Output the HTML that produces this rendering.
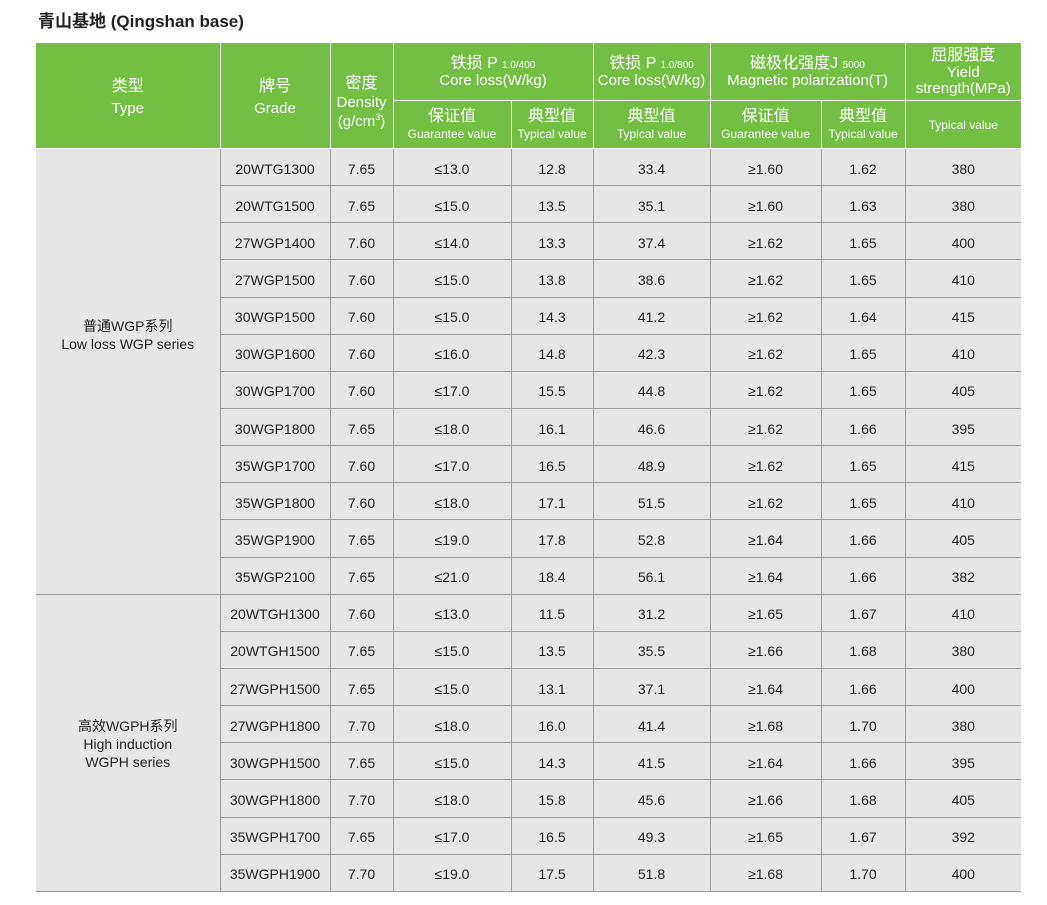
<!DOCTYPE html>
<html><head><meta charset="utf-8"><style>
body{margin:0;background:#fff;width:1047px;height:905px;overflow:hidden;font-family:"Liberation Sans","Noto Sans CJK SC",sans-serif;color:#231f20}
.t{position:absolute;left:38px;top:7px;font-size:17px;font-weight:bold}
table{position:absolute;left:36px;top:42px;border-collapse:collapse;table-layout:fixed;width:985px}
th{background:#72bf44;color:#fff;font-weight:normal;border:1px solid #fff;padding:0;line-height:1.1;text-align:center}
th .c{font-size:16px}
th .e{font-size:15px}
th .s{font-size:12px;margin-top:2px}
th sub{font-size:10px;vertical-align:baseline}
th.big{line-height:1.4}
td{background:#e6e6e6;border:1px solid #9a9a9a;border-top:1.5px solid #9a9a9a;text-align:center;font-size:14px;padding:0;height:36px;padding-top:3px}
tr.b td{height:33.15px}
td.ty{font-size:14px;line-height:1.3}
</style></head><body>
<div class="t">青山基地 (Qingshan base)</div>
<table>
<colgroup><col style="width:184px"><col style="width:110px"><col style="width:63px"><col style="width:118px"><col style="width:82px"><col style="width:117px"><col style="width:111px"><col style="width:84px"><col style="width:116px"></colgroup>
<tr style="height:58px">
<th rowspan="2" class="big" style="border-left:none"><div class="c" style="margin-top:4px">类型</div><div class="e">Type</div></th>
<th rowspan="2" class="big"><div class="c" style="margin-top:4px">牌号</div><div class="e">Grade</div></th>
<th rowspan="2" style="line-height:1.2"><div class="c" style="margin-top:14px">密度</div><div class="e">Density<br>(g/cm<sup style="font-size:9px">3</sup>)</div></th>
<th colspan="2"><div class="c" style="margin-top:2px">铁损 P <sub>1.0/400</sub></div><div class="e">Core loss(W/kg)</div></th>
<th><div class="c" style="margin-top:2px">铁损 P <sub>1.0/800</sub></div><div class="e">Core loss(W/kg)</div></th>
<th colspan="2"><div class="c" style="margin-top:2px">磁极化强度J <sub>5000</sub></div><div class="e">Magnetic polarization(T)</div></th>
<th style="border-right:none"><div class="c" style="margin-top:2px">屈服强度</div><div class="e">Yield<br>strength(MPa)</div></th>
</tr>
<tr style="height:48px">
<th><div class="c">保证值</div><div class="s">Guarantee value</div></th>
<th><div class="c">典型值</div><div class="s">Typical value</div></th>
<th><div class="c">典型值</div><div class="s">Typical value</div></th>
<th><div class="c">保证值</div><div class="s">Guarantee value</div></th>
<th><div class="c">典型值</div><div class="s">Typical value</div></th>
<th style="border-right:none"><div class="s">Typical value</div></th>
</tr>
<tr class="b"><td rowspan="12" class="ty" style="border-left:none;padding-bottom:76px">普通WGP系列<br>Low loss WGP series</td><td>20WTG1300</td><td>7.65</td><td>≤13.0</td><td>12.8</td><td>33.4</td><td>≥1.60</td><td>1.62</td><td style="border-right:none">380</td></tr>
<tr class="b"><td>20WTG1500</td><td>7.65</td><td>≤15.0</td><td>13.5</td><td>35.1</td><td>≥1.60</td><td>1.63</td><td style="border-right:none">380</td></tr>
<tr class="b"><td>27WGP1400</td><td>7.60</td><td>≤14.0</td><td>13.3</td><td>37.4</td><td>≥1.62</td><td>1.65</td><td style="border-right:none">400</td></tr>
<tr class="b"><td>27WGP1500</td><td>7.60</td><td>≤15.0</td><td>13.8</td><td>38.6</td><td>≥1.62</td><td>1.65</td><td style="border-right:none">410</td></tr>
<tr class="b"><td>30WGP1500</td><td>7.60</td><td>≤15.0</td><td>14.3</td><td>41.2</td><td>≥1.62</td><td>1.64</td><td style="border-right:none">415</td></tr>
<tr class="b"><td>30WGP1600</td><td>7.60</td><td>≤16.0</td><td>14.8</td><td>42.3</td><td>≥1.62</td><td>1.65</td><td style="border-right:none">410</td></tr>
<tr class="b"><td>30WGP1700</td><td>7.60</td><td>≤17.0</td><td>15.5</td><td>44.8</td><td>≥1.62</td><td>1.65</td><td style="border-right:none">405</td></tr>
<tr class="b"><td>30WGP1800</td><td>7.65</td><td>≤18.0</td><td>16.1</td><td>46.6</td><td>≥1.62</td><td>1.66</td><td style="border-right:none">395</td></tr>
<tr class="b"><td>35WGP1700</td><td>7.60</td><td>≤17.0</td><td>16.5</td><td>48.9</td><td>≥1.62</td><td>1.65</td><td style="border-right:none">415</td></tr>
<tr class="b"><td>35WGP1800</td><td>7.60</td><td>≤18.0</td><td>17.1</td><td>51.5</td><td>≥1.62</td><td>1.65</td><td style="border-right:none">410</td></tr>
<tr class="b"><td>35WGP1900</td><td>7.65</td><td>≤19.0</td><td>17.8</td><td>52.8</td><td>≥1.64</td><td>1.66</td><td style="border-right:none">405</td></tr>
<tr class="b"><td>35WGP2100</td><td>7.65</td><td>≤21.0</td><td>18.4</td><td>56.1</td><td>≥1.64</td><td>1.66</td><td style="border-right:none">382</td></tr>
<tr class="b"><td rowspan="8" class="ty" style="border-left:none">高效WGPH系列<br>High induction<br>WGPH series</td><td>20WTGH1300</td><td>7.60</td><td>≤13.0</td><td>11.5</td><td>31.2</td><td>≥1.65</td><td>1.67</td><td style="border-right:none">410</td></tr>
<tr class="b"><td>20WTGH1500</td><td>7.65</td><td>≤15.0</td><td>13.5</td><td>35.5</td><td>≥1.66</td><td>1.68</td><td style="border-right:none">380</td></tr>
<tr class="b"><td>27WGPH1500</td><td>7.65</td><td>≤15.0</td><td>13.1</td><td>37.1</td><td>≥1.64</td><td>1.66</td><td style="border-right:none">400</td></tr>
<tr class="b"><td>27WGPH1800</td><td>7.70</td><td>≤18.0</td><td>16.0</td><td>41.4</td><td>≥1.68</td><td>1.70</td><td style="border-right:none">380</td></tr>
<tr class="b"><td>30WGPH1500</td><td>7.65</td><td>≤15.0</td><td>14.3</td><td>41.5</td><td>≥1.64</td><td>1.66</td><td style="border-right:none">395</td></tr>
<tr class="b"><td>30WGPH1800</td><td>7.70</td><td>≤18.0</td><td>15.8</td><td>45.6</td><td>≥1.66</td><td>1.68</td><td style="border-right:none">405</td></tr>
<tr class="b"><td>35WGPH1700</td><td>7.65</td><td>≤17.0</td><td>16.5</td><td>49.3</td><td>≥1.65</td><td>1.67</td><td style="border-right:none">392</td></tr>
<tr class="b"><td>35WGPH1900</td><td>7.70</td><td>≤19.0</td><td>17.5</td><td>51.8</td><td>≥1.68</td><td>1.70</td><td style="border-right:none">400</td></tr>
</table>
</body></html>
